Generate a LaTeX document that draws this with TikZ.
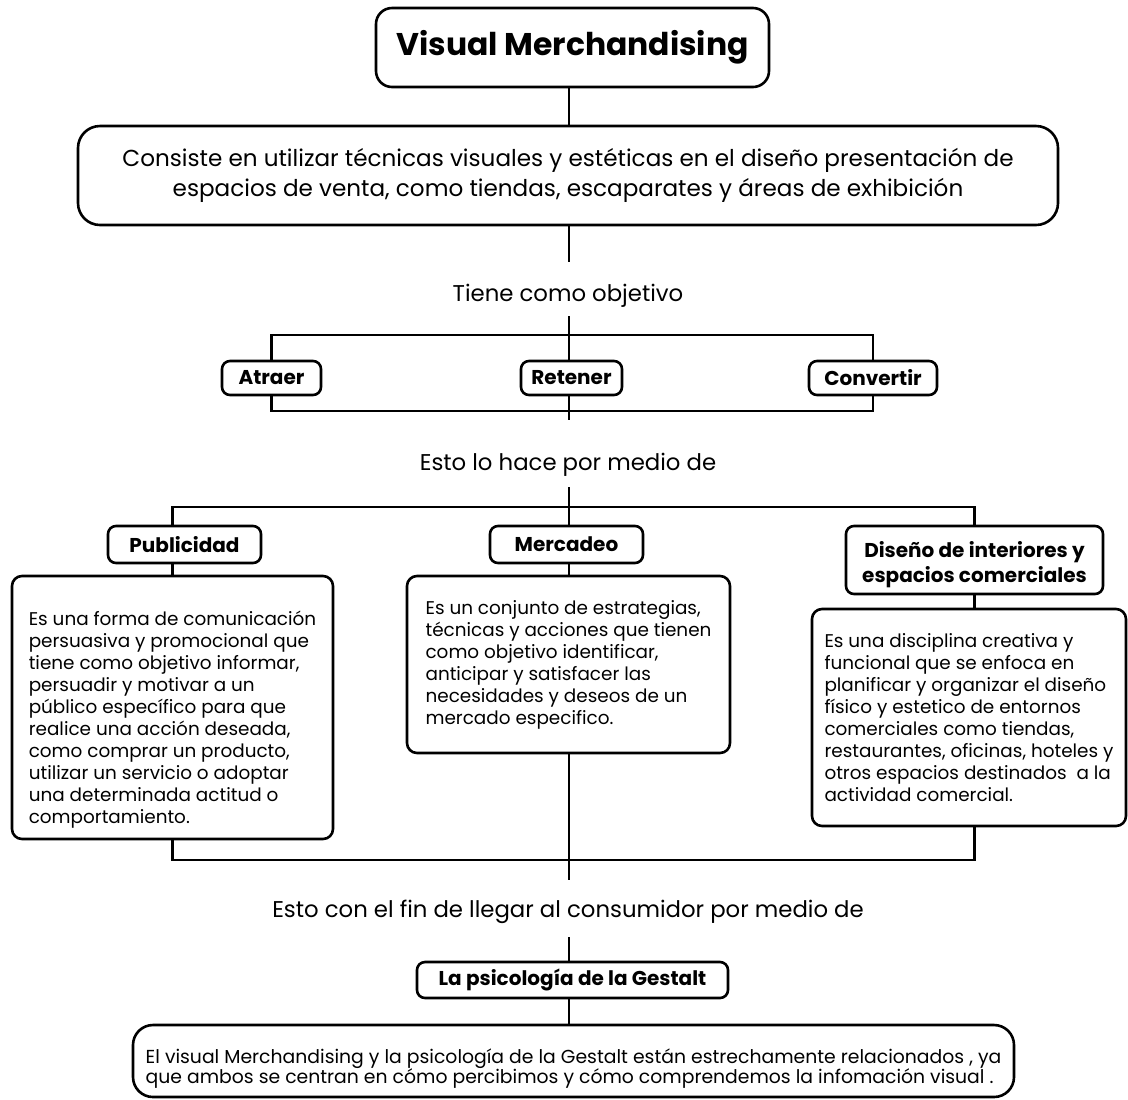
\documentclass[tikz,border=0pt]{standalone}
\usepackage{fontspec}
\setmainfont{Poppins}
\usepackage{tikz}
\usetikzlibrary{positioning, calc}
\tikzset{
    mainbox/.style={rectangle, draw=black, line width=1.3pt, fill=white, align=center, inner sep=0pt, rounded corners=10pt},
    tag/.style={rectangle, draw=black, line width=1.3pt, fill=white, align=center, inner sep=0pt, rounded corners=4pt, font=\bfseries\fontsize{10}{12.5}\selectfont},
    descbox/.style={rectangle, draw=black, line width=1.3pt, fill=white, align=left, inner sep=0pt, rounded corners=5pt, font=\fontsize{9.2}{11}\selectfont},
    linktext/.style={inner sep=0pt, font=\fontsize{11.4}{14}\selectfont},
    conn/.style={line width=1.3pt}
}

\begin{document}
\begin{tikzpicture}[x=0.5pt, y=-0.5pt]
    \useasboundingbox (0,0) rectangle (1128,1099);

    % Spine
    \coordinate (axis) at (569,0);
    \coordinate (e1) at (569,262);
    \coordinate (s1) at (569,316);
    \coordinate (e2) at (569,420);
    \coordinate (s2) at (569,487);
    \coordinate (e3) at (569,880);
    \coordinate (s3) at (569,937);
    \coordinate (b1top) at (569,335);
    \coordinate (b1bot) at (569,411);
    \coordinate (b2top) at (569,507);
    \coordinate (b2bot) at (569,860);

    % Title and definition
    \node[mainbox, rounded corners=8pt, minimum width=196.5pt, minimum height=39.5pt, font=\bfseries\fontsize{15.7}{19}\selectfont] (title) at (572.5,47.5) {Visual Merchandising};
    \node[mainbox, rounded corners=11pt, minimum width=490pt, minimum height=49.5pt, font=\fontsize{11.55}{15}\selectfont] (def) at (568,175.5) {Consiste en utilizar técnicas visuales y estéticas en el diseño presentación de\\espacios de venta, como tiendas, escaparates y áreas de exhibición};
    \draw[conn] (title.south -| axis) -- (def.north -| axis);
    \draw[conn] (def.south -| axis) -- (e1);

    % Objectives
    \node[linktext] (tiene) at (568,296) {Tiene como objetivo};
    \draw[conn] (s1) -- (e2);
    \node[tag, minimum width=49.5pt, minimum height=17pt] (atraer) at (271.5,378) {Atraer};
    \node[tag, minimum width=50.5pt, minimum height=17pt] (retener) at (571.5,378) {Retener};
    \node[tag, minimum width=64pt, minimum height=17pt] (convertir) at (873,378) {Convertir};
    \draw[conn] (atraer.north) |- (b1top) -| (convertir.north);
    \draw[conn] (atraer.south) |- (b1bot) -| (convertir.south);

    % Means
    \node[linktext] (hace) at (568,465) {Esto lo hace por medio de};
    \node[tag, minimum width=76.5pt, minimum height=18.5pt] (publicidad) at (184.5,544.5) {Publicidad};
    \node[tag, minimum width=76.5pt, minimum height=18.5pt] (mercadeo) at (566.5,544.5) {Mercadeo};
    \node[tag, minimum width=128.5pt, minimum height=34pt] (diseno) at (974.5,560) {\rule{0pt}{13pt}Diseño de interiores y\\espacios comerciales};
    \node[descbox, minimum width=160.5pt, minimum height=131.5pt] (pubdesc) at (172.5,707.5) {\rule{0pt}{19pt}Es una forma de comunicación\\persuasiva y promocional que\\tiene como objetivo informar,\\persuadir y motivar a un\\público específico para que\\realice una acción deseada,\\como comprar un producto,\\utilizar un servicio o adoptar\\una determinada actitud o\\comportamiento.};
    \node[descbox, minimum width=161.5pt, minimum height=88.5pt] (merdesc) at (568.5,664.5) {Es un conjunto de estrategias,\\técnicas y acciones que tienen\\como objetivo identificar,\\anticipar y satisfacer las\\necesidades y deseos de un\\mercado especifico.};
    \node[descbox, minimum width=157pt, minimum height=108.5pt] (disdesc) at (969,717.5) {Es una disciplina creativa y\\funcional que se enfoca en\\planificar y organizar el diseño\\físico y estetico de entornos\\comerciales como tiendas,\\restaurantes, oficinas, hoteles y\\otros espacios destinados\ \ a la\\actividad comercial.};
    \draw[conn] (s2) -- (mercadeo.north -| axis);
    \draw[conn] (publicidad.north -| pubdesc.north) |- (b2top) -| (diseno.north);
    \draw[conn] (publicidad.south -| pubdesc.north) -- (pubdesc.north);
    \draw[conn] (mercadeo.south -| axis) -- (merdesc.north -| axis);
    \draw[conn] (diseno.south) -- (disdesc.north -| diseno.south);
    \draw[conn] (pubdesc.south) |- (b2bot) -| (disdesc.south -| diseno.south);
    \draw[conn] (merdesc.south -| axis) -- (e3);

    % Gestalt
    \node[linktext] (consum) at (568,912) {Esto con el fin de llegar al consumidor por medio de};
    \node[tag, minimum width=155.5pt, minimum height=18pt] (gestalt) at (572.5,980) {La psicología de la Gestalt};
    \node[mainbox, align=left, minimum width=440.5pt, minimum height=36pt, font=\fontsize{9.4}{10}\selectfont] (final) at (573.5,1061) {\rule{0pt}{15pt}El visual Merchandising y la psicología de la Gestalt están estrechamente relacionados , ya\\que ambos se centran en cómo percibimos y cómo comprendemos la infomación visual .};
    \draw[conn] (s3) -- (gestalt.north -| axis);
    \draw[conn] (gestalt.south -| axis) -- (final.north -| axis);
\end{tikzpicture}
\end{document}
